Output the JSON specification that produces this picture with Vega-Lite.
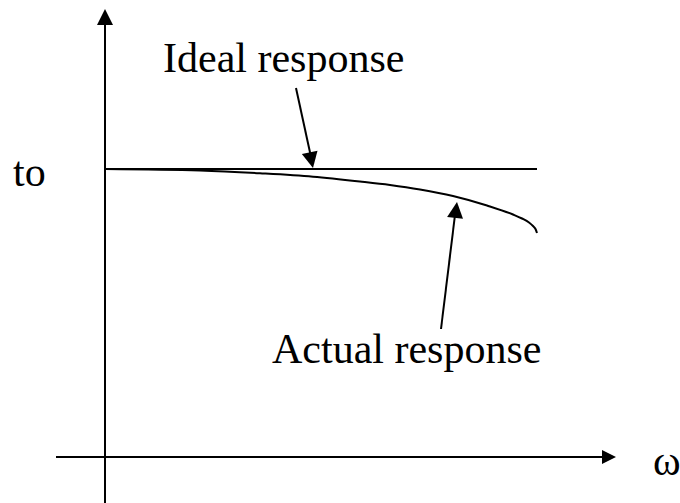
{
  "$schema": "https://vega.github.io/schema/vega-lite/v6.json",
  "width": 680,
  "height": 503,
  "padding": 0,
  "autosize": {"type": "none"},
  "background": "white",
  "config": {"view": {"stroke": null}},
  "datasets": {
    "segs": [
      {"name": "y-axis", "x": 0, "y": -0.47, "x2": 0, "y2": 4.44},
      {"name": "x-axis", "x": -0.49, "y": 0, "x2": 5.04, "y2": 0},
      {"name": "ideal", "x": 0, "y": 2.88, "x2": 4.32, "y2": 2.88},
      {"name": "ideal-arrow", "x": 1.91, "y": 3.69, "x2": 2.06, "y2": 3.0},
      {"name": "actual-arrow", "x": 3.36, "y": 1.28, "x2": 3.50, "y2": 2.42}
    ],
    "curve": [
      {"x": 0, "y": 2.88},
      {"x": 0.95, "y": 2.865},
      {"x": 1.55, "y": 2.837},
      {"x": 2.08, "y": 2.803},
      {"x": 2.55, "y": 2.755},
      {"x": 2.85, "y": 2.72},
      {"x": 3.15, "y": 2.675},
      {"x": 3.48, "y": 2.61},
      {"x": 3.82, "y": 2.515},
      {"x": 4.08, "y": 2.425},
      {"x": 4.17, "y": 2.385},
      {"x": 4.24, "y": 2.345},
      {"x": 4.28, "y": 2.31},
      {"x": 4.305, "y": 2.28},
      {"x": 4.32, "y": 2.24}
    ],
    "heads": [
      {"name": "y-axis", "x": 0, "y": 4.48, "angle": 0, "len": 1024},
      {"name": "x-axis", "x": 5.11, "y": 0, "angle": 90, "len": 784},
      {"name": "ideal", "x": 2.08, "y": 2.89, "angle": 168, "len": 1024},
      {"name": "actual", "x": 3.52, "y": 2.55, "angle": 7, "len": 1024}
    ],
    "labels": [
      {"text": "Ideal response", "x": 0.58, "y": 3.85},
      {"text": "Actual response", "x": 1.67, "y": 0.94},
      {"text": "to", "x": -0.92, "y": 2.71},
      {"text": "ω", "x": 5.48, "y": -0.18}
    ]
  },
  "resolve": {"scale": {"x": "shared", "y": "shared"}},
  "layer": [
    {
      "data": {"name": "segs"},
      "mark": {"type": "rule", "color": "black", "strokeWidth": 2},
      "encoding": {
        "x": {"field": "x", "type": "quantitative", "scale": {"domain": [-1.05, 5.75], "nice": false, "zero": false}, "axis": null},
        "y": {"field": "y", "type": "quantitative", "scale": {"domain": [-0.46, 4.57], "nice": false, "zero": false}, "axis": null},
        "x2": {"field": "x2"},
        "y2": {"field": "y2"}
      }
    },
    {
      "data": {"name": "curve"},
      "mark": {"type": "line", "color": "black", "strokeWidth": 2, "interpolate": "monotone"},
      "encoding": {
        "x": {"field": "x", "type": "quantitative"},
        "y": {"field": "y", "type": "quantitative"}
      }
    },
    {
      "data": {"name": "heads"},
      "mark": {"type": "point", "shape": "M0,0L0.5,1L-0.5,1Z", "filled": true, "color": "black", "opacity": 1, "strokeWidth": 0},
      "encoding": {
        "x": {"field": "x", "type": "quantitative"},
        "y": {"field": "y", "type": "quantitative"},
        "angle": {"field": "angle", "type": "quantitative", "scale": null},
        "size": {"field": "len", "type": "quantitative", "scale": null}
      }
    },
    {
      "data": {"name": "labels"},
      "mark": {"type": "text", "font": "Liberation Serif", "fontSize": 42, "align": "left", "baseline": "alphabetic", "color": "black"},
      "encoding": {
        "x": {"field": "x", "type": "quantitative"},
        "y": {"field": "y", "type": "quantitative"},
        "text": {"field": "text"}
      }
    }
  ]
}
